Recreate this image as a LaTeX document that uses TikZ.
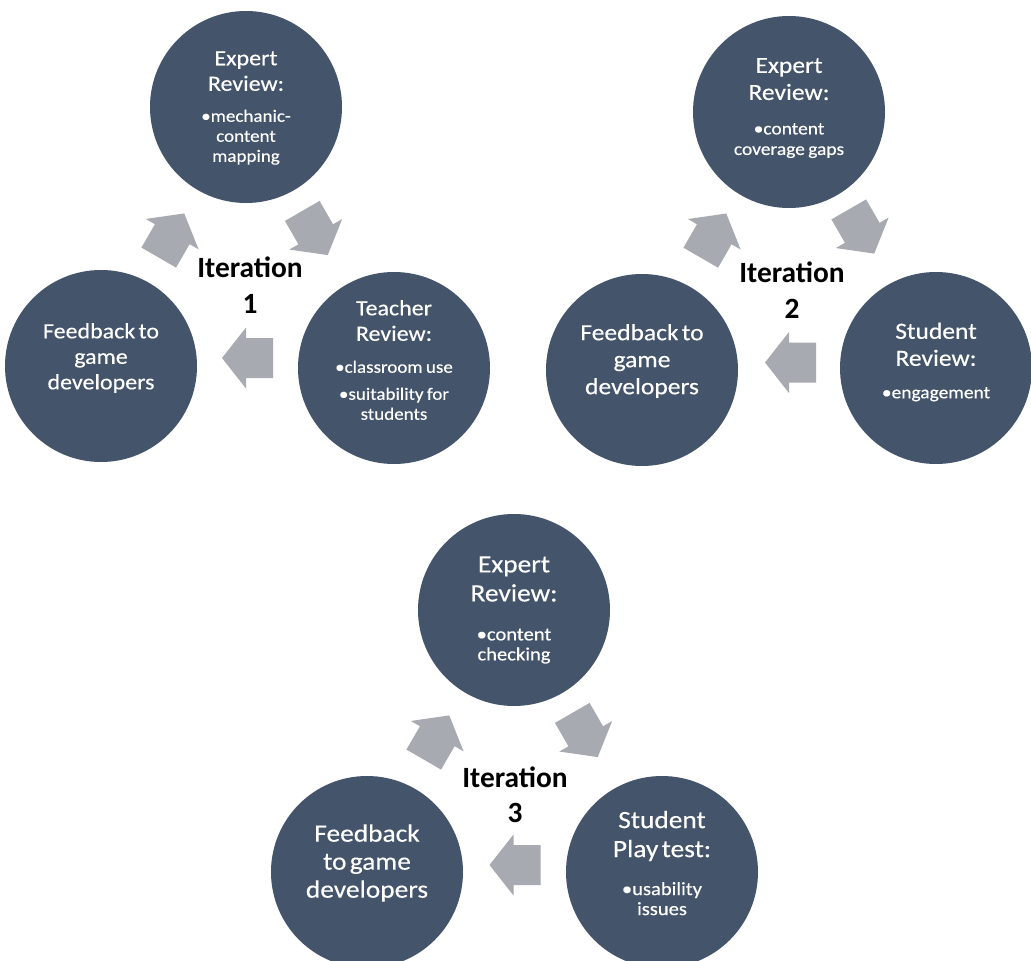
\documentclass[tikz,border=0pt]{standalone}
\usepackage{fontspec}
\setmainfont{Carlito}
\newfontfamily\circfont[FakeStretch=1.1,FakeBold=0.35]{Carlito}
\newfontfamily\labfont{Carlito}
\setlength\parindent{0pt}
\definecolor{circblue}{HTML}{44546A}
\definecolor{arrgray}{HTML}{A7AAB0}
\newcommand\SetSize[2]{\fontsize{#1pt}{#2pt}\selectfont}
\newcommand\blockarrow[2]{%
  \fill[arrgray, shift={(#1)}, rotate=#2]
    (-25.5,-20) -- (1.5,-20) -- (1.5,-30.5) -- (25.5,0) -- (1.5,30.5) -- (1.5,20) -- (-25.5,20) -- cycle;}
\begin{document}
\begin{tikzpicture}[x=1pt,y=1pt,
  phase/.style={circle, fill=circblue, minimum size=192pt, inner sep=0pt},
  ctext/.style={text=white, align=center, text width=185pt, inner sep=0pt, font=\circfont},
  itlab/.style={anchor=base, inner sep=0pt, text=black, font=\labfont\bfseries\fontsize{29.4pt}{34pt}\selectfont}]
\useasboundingbox (0,0) rectangle (1031,-961);
\fill[white] (0,0) rectangle (1031,-961);
\clip (0,0) rectangle (1031,-961);

% ---------------- Iteration 1 ----------------
\node[phase] (t1) at (246,-107) {};
\node[phase] (l1) at (101,-366) {};
\node[phase] (r1) at (394,-368) {};
\node[ctext] (t1txt) at ([yshift=-1pt]t1.center) {{\SetSize{21.8}{25.5}Expert\\Review:\par}\vspace{11pt}{\SetSize{17.3}{20}•mechanic-\\content\\mapping\par}};
\node[ctext] (l1txt) at ([yshift=8pt]l1.center) {{\SetSize{21.8}{25.5}Feedback to\\game\\developers\par}};
\node[ctext] (r1txt) at ([yshift=8pt]r1.center) {{\SetSize{21.8}{25.5}Teacher\\Review:\par}\vspace{12pt}{\SetSize{17.3}{20}•classroom use\par}\vspace{7pt}{\SetSize{17.3}{20}•suitability for\\students\par}};
\coordinate (a1ul) at (171.5,-235.5);
\coordinate (a1ur) at (315,-233);
\coordinate (a1b) at (247.5,-358);
\blockarrow{a1ul}{60}
\blockarrow{a1ur}{-60}
\blockarrow{a1b}{180}
\node[itlab] (it1) at (250,-277) {Iteration};
\node[itlab] (n1) at (250,-313) {1};

% ---------------- Iteration 2 ----------------
\node[phase] (t2) at (789,-112) {};
\node[phase] (l2) at (642,-370) {};
\node[phase] (r2) at (936,-368) {};
\node[ctext] (t2txt) at ([yshift=4pt]t2.center) {{\SetSize{23.2}{27}Expert\\Review:\par}\vspace{14pt}{\SetSize{17.7}{20.5}•content\\coverage gaps\par}};
\node[ctext] (l2txt) at ([yshift=9pt]l2.center) {{\SetSize{23.2}{27}Feedback to\\game\\developers\par}};
\node[ctext] (r2txt) at ([yshift=6pt]r2.center) {{\SetSize{23.2}{27}Student\\Review:\par}\vspace{12pt}{\SetSize{17.7}{20.5}•engagement\par}};
\coordinate (a2ul) at (713.5,-235.6);
\coordinate (a2ur) at (861.5,-231.5);
\coordinate (a2b) at (790.5,-362.5);
\blockarrow{a2ul}{60}
\blockarrow{a2ur}{-60}
\blockarrow{a2b}{180}
\node[itlab] (it2) at (792,-282) {Iteration};
\node[itlab] (n2) at (792,-318) {2};

% ---------------- Iteration 3 ----------------
\node[phase] (t3) at (514,-610) {};
\node[phase] (l3) at (367,-872) {};
\node[phase] (r3) at (662,-872) {};
\node[ctext] (t3txt) at (t3.center) {{\SetSize{24.9}{29}Expert\\Review:\par}\vspace{19pt}{\SetSize{18.7}{20}•content\\checking\par}};
\node[ctext] (l3txt) at ([yshift=9pt]l3.center) {{\SetSize{24.9}{28}Feedback\\to game\\developers\par}};
\node[ctext] (r3txt) at ([yshift=9pt]r3.center) {{\SetSize{24.9}{29}Student\\Play test:\par}\vspace{18pt}{\SetSize{18.7}{20}•usability\\issues\par}};
\coordinate (a3ul) at (436.5,-737.5);
\coordinate (a3ur) at (585,-735);
\coordinate (a3b) at (515,-865);
\blockarrow{a3ul}{60}
\blockarrow{a3ur}{-60}
\blockarrow{a3b}{180}
\node[itlab] (it3) at (515,-787) {Iteration};
\node[itlab] (n3) at (515,-822) {3};
\end{tikzpicture}
\end{document}
